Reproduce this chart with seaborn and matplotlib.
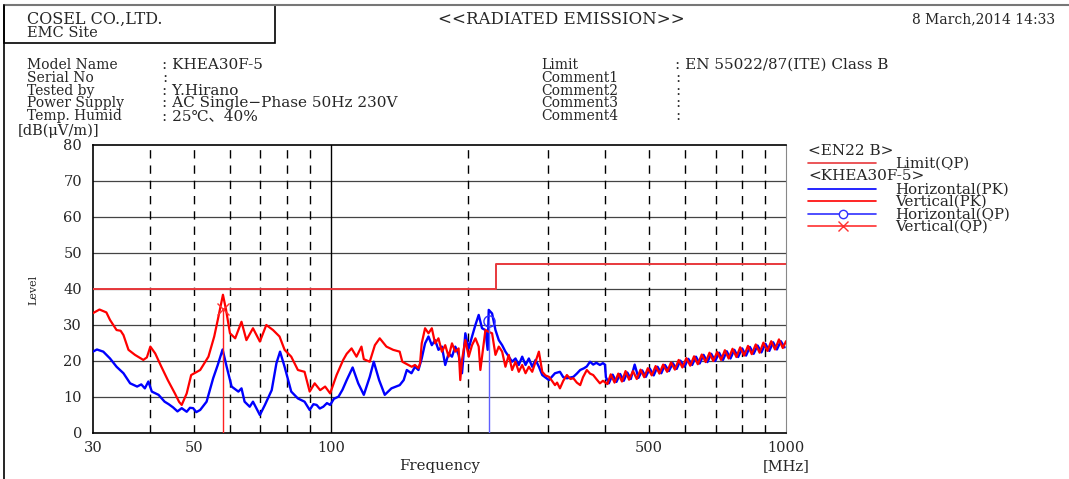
import seaborn as sns
import pandas as pd
import matplotlib.pyplot as plt
from matplotlib.lines import Line2D
from matplotlib.patches import Rectangle
from matplotlib.ticker import MultipleLocator, NullLocator, FixedLocator

# Limit line EN22 B (QP)
limit_freq = [30, 230, 1000]
limit_level = [40, 47, 47]

# Vertical (PK) trace
vert_freq = [
    30, 31.0, 32.1, 32.7, 33.8, 34.5, 35.0, 35.9, 37.1, 38.7, 39.4, 40.1, 41.1, 42.4,
    43.8, 45.4, 46.4, 47.0, 48.2, 49.3, 51.6, 53.8, 55.4, 56.4, 57.9, 58.8, 60.0, 61.6,
    63.6, 65.2, 67.4, 69.8, 72.1, 74.6, 77.1, 79.1, 81.8, 84.6, 87.5, 89.8, 92.1, 94.7,
    97.1, 99.6, 102.9, 106.4, 108.3, 111.0, 113.8, 116.7, 118.1, 121.7, 124.9, 128.0,
    132.4, 137.0, 141.6, 143.5, 148.0, 150.5, 153.0, 155.7, 157.0, 158.3, 161.0, 163.8,
    166.6, 169.4, 172.3, 175.3, 178.3, 181.4, 184.5, 187.6, 190.8, 192.4, 194.1, 197.4,
    200.8, 204.2, 207.7, 211.2, 213.0, 214.8, 218.5, 222.2, 226.0, 229.9, 233.8, 237.8,
    241.8, 245.9, 250.1, 254.4, 258.7, 263.2, 267.7, 272.2, 276.9, 281.6, 286.4, 291.3,
    296, 301.3, 306, 310.7, 314, 318.6, 324, 330, 336, 341, 347, 353, 358, 365, 371,
    377, 383, 390, 396,
    405, 412, 420, 428, 436, 444, 452, 461, 470, 479, 488, 497, 507, 517, 527, 537,
    548, 559, 570, 581, 592, 604, 616, 628, 640, 653, 666, 679, 692, 706, 720, 734,
    748, 763, 778, 793, 809, 825, 841, 858, 875, 892, 910, 928, 946, 965, 984, 1000,
]
vert_level = [
    33.3, 34.3, 33.5, 31.4, 28.6, 28.4, 27.2, 23.1, 21.7, 20.3, 21.0, 24.0, 22.1, 18.4,
    14.7, 11.0, 8.6, 7.8, 11.0, 16.1, 17.5, 21.2, 26.8, 31.4, 38.4, 34.3, 27.7, 26.3,
    30.9, 25.8, 29.1, 25.4, 30.0, 28.6, 26.8, 23.1, 21.2, 17.5, 17.0, 11.5, 13.8, 11.9,
    12.9, 11.0, 16.1, 20.3, 22.0, 23.5, 21.2, 24.0, 20.5, 19.8, 24.4, 26.3,
    24.0, 23.1, 22.6, 19.8, 18.9, 18.4, 18.9, 18.0, 19.4, 24.9, 29.1, 27.7,
    29.1, 24.9, 26.3, 22.6, 24.4, 21.2, 24.9, 22.6, 23.5, 14.7, 20.3, 25.8,
    21.2, 24.4, 26.3, 24.0, 17.5, 21.2, 28.6, 28.1, 27.7, 21.7, 24.0, 22.6,
    18.4, 21.7, 17.5, 19.8, 17.0, 18.9, 16.6, 18.4, 17.0, 19.8, 22.6, 17.0,
    16.0, 15.6, 14.5, 13.3, 14.0, 12.4, 14.5, 16.1, 15.0, 15.2, 14.0, 13.3, 15.5, 17.5, 16.5,
    16.1, 15.0, 13.8, 14.5,
    13.6, 16.3, 14.0, 16.5, 14.3, 17.2, 14.8, 17.2, 15.0, 17.6, 15.5, 18.0, 16.0, 18.6, 16.5, 19.0,
    17.0, 19.6, 17.6, 20.3, 18.2, 20.8, 18.7, 21.3, 19.1, 21.8, 19.7, 22.3, 20.0, 22.5, 20.3, 23.0,
    20.7, 23.4, 21.1, 23.8, 21.5, 24.2, 21.9, 24.6, 22.3, 25.1, 22.8, 25.5, 23.2, 26.0, 23.6, 25.5,
]

# Horizontal (PK) trace
horiz_freq = [
    30, 30.6, 31.6, 32.7, 33.8, 35.0, 36.2, 37.5, 38.3, 39.0, 39.7, 40.4, 41.8, 43.1,
    44.0, 45.0, 46.0, 47.0, 48.2, 49.0, 49.8, 50.6, 51.6, 53.3, 55.1, 56.4, 57.8, 59.0,
    60.5, 62.6, 63.6, 64.6, 66.3, 67.4, 69.8, 71.6, 74.1, 75.9, 77.3, 79.1, 81.8, 84.6,
    87.5, 89.8, 91.5, 93.0, 94.5, 96.2, 98.0, 99.6, 101.5, 103.9, 106.0, 108.3, 111.6,
    114.8, 118.1, 121.7, 124.2, 127.6, 131.3, 135.8, 141.6, 144.5, 146.8, 150.3, 153.0,
    155.7, 158.3, 161.0, 163.8, 166.6, 169.4, 172.3, 175.3, 178.3, 181.4, 184.5, 187.6,
    190.8, 194.1, 197.4, 200.8, 204.2, 207.7, 211.2, 214.8, 218.5, 221.0, 222.2, 226.0,
    229.9, 233.8, 237.8, 241.8, 245.9, 250.1, 254.4, 258.7, 263.2, 267.7, 272.2, 276.9,
    281.6, 286.4, 291.3, 301.3, 310.7, 318.6, 324, 330, 341, 347, 353, 360, 365, 371,
    377, 383, 390, 396, 400,
    402, 408, 416, 424, 432, 440, 448, 456, 465, 474, 483, 492, 502, 512, 522, 532,
    542, 553, 564, 575, 586, 598, 610, 622, 634, 646, 659, 672, 685, 699, 713, 727,
    741, 755, 770, 785, 801, 817, 833, 849, 866, 883, 901, 919, 937, 955, 974, 993,
]
horiz_level = [
    22.6, 23.2, 22.6, 20.7, 18.4, 16.6, 13.8, 12.9, 13.5, 12.4, 14.3, 11.5, 10.6, 8.7,
    8.0, 7.1, 6.0, 6.9, 5.9, 7.0, 6.9, 5.8, 6.4, 8.7, 15.2, 18.9, 23.2, 18.4,
    12.9, 11.5, 12.4, 8.7, 7.3, 8.7, 5.0, 7.8, 11.9, 19.4, 22.6, 18.4, 11.5, 9.6,
    8.7, 6.4, 8.0, 7.8, 6.8, 7.3, 8.3, 7.8, 9.5, 10.1, 12.0, 14.7, 18.2,
    13.8, 10.6, 15.6, 19.8, 14.7, 10.6, 12.4, 13.3, 14.7, 17.5, 16.6, 18.4,
    17.5, 20.7, 24.9, 26.8, 24.4, 25.8, 23.1, 24.0, 18.9, 22.1, 21.2, 24.0,
    21.7, 16.6, 27.7, 23.5, 26.8, 30.0, 32.8, 29.1, 28.6, 23.1, 34.2, 33.2,
    28.6, 25.8, 24.4, 22.6, 21.2, 19.8, 20.7, 18.9, 21.2, 18.9, 20.7, 18.4,
    20.3, 18.4, 16.1, 14.7, 16.6, 17.0, 15.5, 15.2, 15.6, 16.5, 17.5, 18.0, 18.5, 19.8,
    19.0, 19.5, 18.9, 19.4, 19.0,
    15.5, 13.8, 16.2, 14.2, 16.4, 14.5, 16.8, 15.0, 19.0, 15.3, 17.4, 15.6, 17.9, 16.0, 18.4, 16.6,
    18.9, 17.2, 19.4, 17.8, 20.1, 18.4, 20.6, 18.9, 21.2, 19.3, 21.7, 19.7, 22.0, 20.0, 22.3, 20.3,
    22.7, 20.7, 23.1, 21.1, 23.5, 21.5, 23.9, 22.0, 24.3, 22.4, 24.8, 22.8, 25.2, 23.2, 25.5, 23.8,
]

# Quasi-peak results
qp_h_freq, qp_h_level = [222.7], [31.0]
qp_v_freq, qp_v_level = [57.9], [34.5]

x_ticks = [30, 50, 100, 500, 1000]
dashed_freqs = [40, 50, 60, 70, 80, 90, 200, 300, 400, 500, 600, 700, 800, 900]

W, H = 1069, 479


def fx(px):
    return px / W


def fy(py):
    return 1 - py / H


sns.set_style("white")
plt.rcParams["font.family"] = ["DejaVu Serif", "Noto Sans CJK JP"]
plt.rcParams["font.size"] = 10

fig = plt.figure(figsize=(W / 100, H / 100), dpi=100)
ax = fig.add_axes([fx(93), fy(433), fx(786) - fx(93), fy(145) - fy(433)])

# grid
for lv in range(10, 80, 10):
    ax.axhline(lv, color="#444444", lw=0.9, zorder=1)
for fr in dashed_freqs:
    ax.axvline(fr, color="black", lw=1, ls=(0, (6, 5)), zorder=1)
ax.axvline(100, color="black", lw=1, zorder=1)

sns.lineplot(x=limit_freq, y=limit_level, ax=ax, color="#e8383c", lw=1.4,
             drawstyle="steps-post", zorder=3)
sns.lineplot(x=horiz_freq, y=horiz_level, ax=ax, color="#0000ff", lw=1.7,
             sort=False, estimator=None, zorder=4)
sns.lineplot(x=vert_freq, y=vert_level, ax=ax, color="#ff0000", lw=1.6,
             sort=False, estimator=None, zorder=5)

ax.vlines(qp_h_freq, 0, qp_h_level, color="#5f5fff", lw=1.0, zorder=6)
ax.vlines(qp_v_freq, 0, qp_v_level, color="#ff2020", lw=1.0, zorder=6)
ax.plot(qp_h_freq, qp_h_level, "o", mfc="none", mec="#3030ff", ms=8, mew=1, zorder=7)
ax.plot(qp_v_freq, qp_v_level, "x", color="#ff3030", ms=8, mew=1, zorder=7)

ax.set_xscale("log")
ax.set_xlim(30, 1000)
ax.set_ylim(0, 80)
ax.xaxis.set_major_locator(FixedLocator(x_ticks))
ax.xaxis.set_minor_locator(NullLocator())
ax.set_xticklabels([str(t) for t in x_ticks])
ax.yaxis.set_major_locator(MultipleLocator(10))
ax.yaxis.set_minor_locator(MultipleLocator(2))
ax.tick_params(axis="x", length=0, pad=6, labelsize=10.5)
ax.tick_params(axis="y", which="major", direction="in", length=14, width=0.8, pad=8, labelsize=10.5)
ax.tick_params(axis="y", which="minor", direction="in", length=6, width=0.8)
ax.set_xlabel("")
ax.set_ylabel("")
for side in ["left", "bottom", "top"]:
    ax.spines[side].set_color("black")
    ax.spines[side].set_linewidth(1.2)
ax.spines["right"].set_color("#888888")

# axis texts
fig.text(fx(18), fy(131), "[dB(μV/m)]", ha="left", va="center", fontsize=10.5)
fig.text(fx(33), fy(290), "Level", ha="center", va="center", rotation=90, fontsize=8)
fig.text(fx(440), fy(466), "Frequency", ha="center", va="center", fontsize=10.7)
fig.text(fx(810), fy(466), "[MHz]", ha="right", va="center", fontsize=10.5)

# header
fig.add_artist(Line2D([fx(4), fx(1069)], [fy(5), fy(5)], color="#777777", lw=1.5))
fig.add_artist(Line2D([fx(4), fx(4)], [fy(5), fy(479)], color="black", lw=1.2))
fig.add_artist(Rectangle((fx(4), fy(43)), fx(275) - fx(4), fy(5) - fy(43),
                         fill=False, ec="black", lw=1.2))
fig.text(fx(27), fy(19), "COSEL CO.,LTD.", ha="left", va="center", fontsize=11.5)
fig.text(fx(27), fy(33), "EMC Site", ha="left", va="center", fontsize=10.5)
fig.text(fx(561), fy(19), "<<RADIATED EMISSION>>", ha="center", va="center", fontsize=12)
fig.text(fx(1055), fy(19), "8 March,2014 14:33", ha="right", va="center", fontsize=10)

left_labels = ["Model Name", "Serial No", "Tested by", "Power Supply", "Temp. Humid"]
left_values = [": KHEA30F-5", ":", ": Y.Hirano", ": AC Single\u2212Phase 50Hz 230V", ": 25℃、40%"]
right_labels = ["Limit", "Comment1", "Comment2", "Comment3", "Comment4"]
right_values = [": EN 55022/87(ITE) Class B", ":", ":", ":", ":"]
for i in range(5):
    yy = fy(65 + i * 12.8)
    fig.text(fx(27), yy, left_labels[i], ha="left", va="center", fontsize=10)
    fig.text(fx(162), yy, left_values[i], ha="left", va="center", fontsize=11)
    fig.text(fx(541), yy, right_labels[i], ha="left", va="center", fontsize=10)
    fig.text(fx(675), yy, right_values[i], ha="left", va="center", fontsize=11)

# legend
fig.text(fx(808), fy(151), "<EN22 B>", ha="left", va="center", fontsize=11)
fig.text(fx(808), fy(176), "<KHEA30F-5>", ha="left", va="center", fontsize=11)
leg = [
    (163, "Limit(QP)", "#e8383c", None),
    (189, "Horizontal(PK)", "#0000ff", None),
    (201, "Vertical(PK)", "#ff0000", None),
    (214, "Horizontal(QP)", "#3030ff", "o"),
    (226, "Vertical(QP)", "#ff3030", "x"),
]
for py, label, col, mk in leg:
    fig.add_artist(Line2D([fx(808), fx(876)], [fy(py), fy(py)], color=col, lw=1.2))
    if mk == "o":
        fig.add_artist(Line2D([fx(843)], [fy(py)], marker="o", mfc="white", mec=col, ms=6))
    elif mk == "x":
        fig.add_artist(Line2D([fx(843)], [fy(py)], marker="x", color=col, ms=6.5))
    fig.text(fx(895), fy(py + 1), label, ha="left", va="center", fontsize=10.8)

plt.savefig("out.png", dpi=100)
